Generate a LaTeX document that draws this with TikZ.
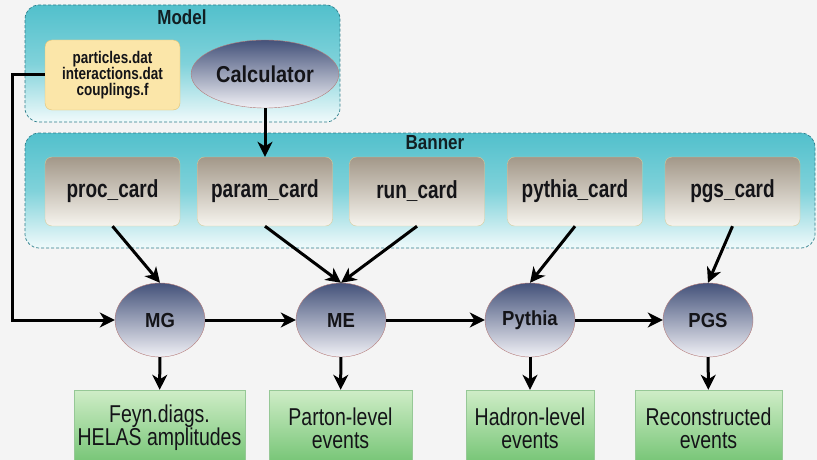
\documentclass[tikz,border=0pt]{standalone}
\usepackage{fontspec}
\setmainfont{Liberation Sans}
\usepackage{xcolor}
\usepackage{graphicx}
\usetikzlibrary{shapes,positioning,calc,arrows.meta}

\definecolor{bgcol}{HTML}{F4F4F4}
\definecolor{tealtop}{HTML}{52C0CC}
\definecolor{tealmid}{HTML}{80D2DA}
\definecolor{tealbot}{HTML}{F0FAFB}
\definecolor{tealline}{HTML}{2F7F8C}
\definecolor{cardtop}{HTML}{A39889}
\definecolor{cardbot}{HTML}{F6F4EE}
\definecolor{cardline}{HTML}{D6CC9C}
\definecolor{progtop}{HTML}{44527A}
\definecolor{progbot}{HTML}{F1F1F6}
\definecolor{progline}{HTML}{B47A78}
\definecolor{filefill}{HTML}{FBE6A9}
\definecolor{fileline}{HTML}{E2C374}
\definecolor{outtop}{HTML}{CFEDC7}
\definecolor{outbot}{HTML}{72C372}
\definecolor{outline}{HTML}{96C896}
\definecolor{ink}{HTML}{141418}

\newcommand{\tall}[2][1.25]{\scalebox{1}[#1]{#2}}

\begin{document}
\begin{tikzpicture}[x=1pt, y=-1pt,
    group/.style={draw=tealline, densely dashed, line width=0.7pt, rounded corners=14pt,
        top color=tealtop, bottom color=tealbot, middle color=tealmid},
    card/.style={draw=cardline, rounded corners=7pt, top color=cardtop, bottom color=cardbot,
        minimum width=135pt, minimum height=69pt, text=ink, font=\fontsize{19}{22}\selectfont\bfseries},
    prog/.style={ellipse, draw=progline, top color=progtop, bottom color=progbot, text=ink,
        minimum width=90pt, minimum height=74pt, font=\fontsize{18.5}{22}\selectfont\bfseries},
    outbox/.style={draw=outline, top color=outtop, bottom color=outbot, minimum height=76pt,
        align=center, text=ink, font=\fontsize{19.5}{23}\selectfont},
    title/.style={font=\fontsize{17}{20}\selectfont\bfseries, text=ink!90!teal},
    arr/.style={-{Stealth[length=15pt,width=15pt,inset=4.5pt]}, line width=3pt}]

    \useasboundingbox (0,0) rectangle (817,460);
    \fill[bgcol] (0,0) rectangle (817,460);
    \clip (0,0) rectangle (817,460);

    \node[group, minimum width=315pt, minimum height=117pt] (model) at (182.5,63.5) {};
    \node[title] (modeltitle) at (182,17) {\tall[1.2]{Model}};
    \node[draw=fileline, fill=filefill, rounded corners=7pt, minimum width=135pt, minimum height=70pt,
        align=center, text=ink, font=\fontsize{13.5}{16}\selectfont\bfseries] (files) at (112.5,75)
        {\tall{particles.dat}\\\tall{interactions.dat}\\\tall{couplings.f}};
    \node[prog, minimum width=126pt, minimum height=68pt, font=\fontsize{20}{22}\selectfont\bfseries]
        (calc) at (265,74) {\tall[1.15]{Calculator}};

    \node[group, minimum width=790pt, minimum height=115pt] (banner) at (420,190.5) {};
    \node[title] (bannertitle) at (435,143) {\tall[1.2]{Banner}};
    \node[card] (proc) at (112.5,191.5) {\tall[1.3]{proc\_card}};
    \node[card] (param) at (265,191.5) {\tall[1.3]{param\_card}};
    \node[card] (run) at (417,191.5) {\tall[1.3]{run\_card}};
    \node[card] (pythiacard) at (575,191.5) {\tall[1.3]{pythia\_card}};
    \node[card] (pgs) at (732.5,191.5) {\tall[1.3]{pgs\_card}};

    \node[prog] (mg) at (160,320) {\tall[1.1]{MG}};
    \node[prog] (me) at (341,320) {\tall[1.1]{ME}};
    \node[prog] (pythia) at (530,320) {\tall[1.1]{Pythia}};
    \node[prog] (pgsrun) at (708,320) {\tall[1.1]{PGS}};

    \node[outbox, minimum width=171pt] (feyn) at (159.5,428)
        {\tall{Feyn.diags.}\\\tall{HELAS amplitudes}};
    \node[outbox, minimum width=143pt] (parton) at (340.5,428) {\tall{Parton-level}\\\tall{events}};
    \node[outbox, minimum width=128pt] (hadron) at (530,428) {\tall{Hadron-level}\\\tall{events}};
    \node[outbox, minimum width=147pt] (reco) at (708.5,428) {\tall{Reconstructed}\\\tall{events}};

    \draw[arr] (files.west) -- ++(-32,0) |- (mg.west);
    \draw[arr] (calc.south) -- (param.north);
    \draw[arr] (proc.south) -- (mg.north);
    \draw[arr] (param.south) -- (me.north);
    \draw[arr] (run.south) -- (me.north);
    \draw[arr] (pythiacard.south) -- (pythia.north);
    \draw[arr] (pgs.south) -- (pgsrun.north);
    \draw[arr] (mg) -- (me);
    \draw[arr] (me) -- (pythia);
    \draw[arr] (pythia) -- (pgsrun);
    \draw[arr] (mg) -- (feyn);
    \draw[arr] (me) -- (parton);
    \draw[arr] (pythia) -- (hadron);
    \draw[arr] (pgsrun) -- (reco);
\end{tikzpicture}
\end{document}
